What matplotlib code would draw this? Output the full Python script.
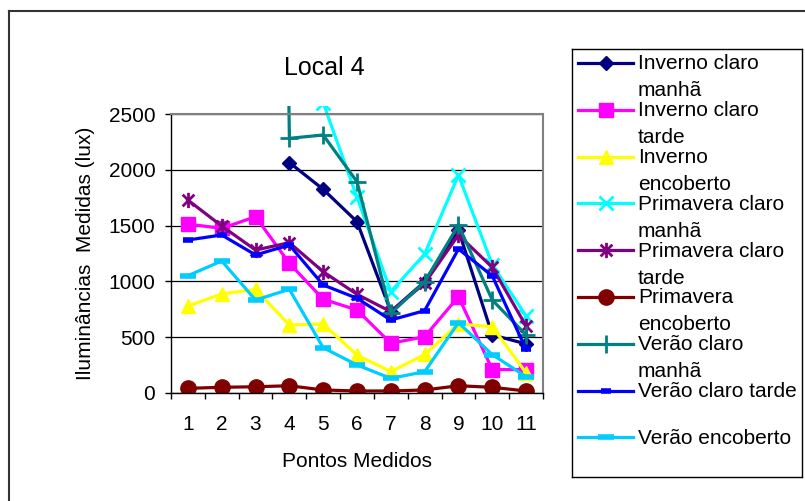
import numpy as np
import matplotlib.pyplot as plt
from matplotlib.path import Path
from matplotlib.patches import Rectangle
from matplotlib.lines import Line2D

plt.rcParams['font.family'] = ['Liberation Sans', 'DejaVu Sans']

pontos = np.arange(1, 12)
nan = np.nan

# valores (lux); ponto 3 de "Verao claro manha" fica fora da escala
inverno_claro_manha = [nan, nan, nan, 2065, 1825, 1535, 730, 997, 1460, 520, 440]
inverno_claro_tarde = [1514, 1475, 1580, 1162, 840, 744, 445, 505, 863, 210, 210]
inverno_encoberto = [780, 887, 929, 609, 618, 340, 191, 345, 618, 594, 180]
primavera_claro_manha = [nan, nan, nan, nan, 2600, 1755, 908, 1245, 1953, 1150, 690]
primavera_claro_tarde = [1729, 1496, 1281, 1347, 1087, 884, 729, 983, 1416, 1126, 600]
primavera_encoberto = [42, 51, 56, 65, 27, 18, 18, 27, 65, 51, 18]
verao_claro_manha = [nan, nan, 25000, 2282, 2312, 1893, 714, 997, 1505, 833, 520]
verao_claro_tarde = [1371, 1416, 1237, 1326, 968, 849, 654, 738, 1290, 1050, 391]
verao_encoberto = [1051, 1183, 833, 929, 406, 251, 131, 191, 630, 344, 146]

series = [inverno_claro_manha, inverno_claro_tarde, inverno_encoberto,
          primavera_claro_manha, primavera_claro_tarde, primavera_encoberto,
          verao_claro_manha, verao_claro_tarde, verao_encoberto]
nomes = ['Inverno claro\nmanhã', 'Inverno claro\ntarde', 'Inverno\nencoberto',
         'Primavera claro\nmanhã', 'Primavera claro\ntarde', 'Primavera\nencoberto',
         'Verão claro\nmanhã', 'Verão claro tarde', 'Verão encoberto']

asterisco = Path([(-1, -1), (1, 1), (-1, 1), (1, -1), (0, -1.3), (0, 1.3)],
                 [Path.MOVETO, Path.LINETO, Path.MOVETO, Path.LINETO, Path.MOVETO, Path.LINETO])

estilos = [
    dict(color='#000080', marker='D', ms=7.5),
    dict(color='#FF00FF', marker='s', ms=9.5),
    dict(color='#FFFF00', marker='^', ms=10.5),
    dict(color='#00FFFF', marker='x', ms=10, mew=2),
    dict(color='#800080', marker=asterisco, ms=11, mew=2),
    dict(color='#800000', marker='o', ms=11),
    dict(color='#008080', marker='+', ms=13, mew=2),
    dict(color='#0000FF', marker='_', ms=7, mew=4),
    dict(color='#00CCFF', marker='_', ms=11, mew=4),
]

W, H = 805, 501
fig = plt.figure(figsize=(W / 100, H / 100), dpi=100)

ax = fig.add_axes([171 / W, 1 - 393 / H, (543 - 171) / W, (393 - 114) / H])
clip = Rectangle((0, 0), 1, 1 + 8 / 279, transform=ax.transAxes, visible=False)
ax.add_patch(clip)

for vals, st in zip(series, estilos):
    ln, = ax.plot(pontos, vals, lw=2.3, **st)
    ln.set_clip_path(clip)

ax.set_ylim(0, 2500)
ax.set_xlim(0.5, 11.5)
ax.set_yticks([0, 500, 1000, 1500, 2000, 2500])
ax.yaxis.grid(True, color='black', lw=0.9)
ax.set_axisbelow(True)
ax.set_xticks(np.arange(0.5, 12, 1))
ax.set_xticklabels([])
ax.set_xticks(pontos, minor=True)
ax.set_xticklabels([str(p) for p in pontos], minor=True)
ax.tick_params(axis='x', which='major', length=4, width=1, direction='out')
ax.tick_params(axis='x', which='minor', length=0, pad=16, labelsize=15)
ax.tick_params(axis='y', length=4.3, width=1, pad=7, labelsize=15)
for s in ['top', 'right']:
    ax.spines[s].set_color('#808080')
    ax.spines[s].set_linewidth(1.5)
for s in ['left', 'bottom']:
    ax.spines[s].set_color('black')
    ax.spines[s].set_linewidth(1)

ax.set_xlabel('Pontos Medidos', fontsize=15)
ax.xaxis.set_label_coords(0.5, -0.21)
ax.set_ylabel('Iluminâncias  Medidas (lux)', fontsize=15)
ax.yaxis.set_label_coords(-0.205, 0.5)

fig.text(324 / W, 1 - 68 / H, 'Local 4', ha='center', va='center', fontsize=18)

# legenda desenhada a mao para alinhar a amostra com a primeira linha do texto
lax = fig.add_axes([572 / W, 1 - 477 / H, 230 / W, 428 / H])
lax.set_xlim(572, 802)
lax.set_ylim(477, 49)
lax.set_xticks([])
lax.set_yticks([])
for s in lax.spines.values():
    s.set_color('black')
    s.set_linewidth(1)
for k, (nome, st) in enumerate(zip(nomes, estilos)):
    yk = 63 + 46.8 * k
    lax.plot([578, 605.5, 633], [yk, yk, yk], lw=2.3, markevery=[1], clip_on=False, **st)
    for i, linha in enumerate(nome.split('\n')):
        lax.text(638, yk + 1 + 27 * i, linha, ha='left', va='center', fontsize=15)

# moldura da area do grafico
fig.add_artist(Line2D([9 / W, 1], [1 - 11 / H, 1 - 11 / H], color='#333333', lw=1.5))
fig.add_artist(Line2D([9 / W, 9 / W], [0, 1 - 11 / H], color='#333333', lw=1.5))

fig.savefig('out.png', dpi=100)
